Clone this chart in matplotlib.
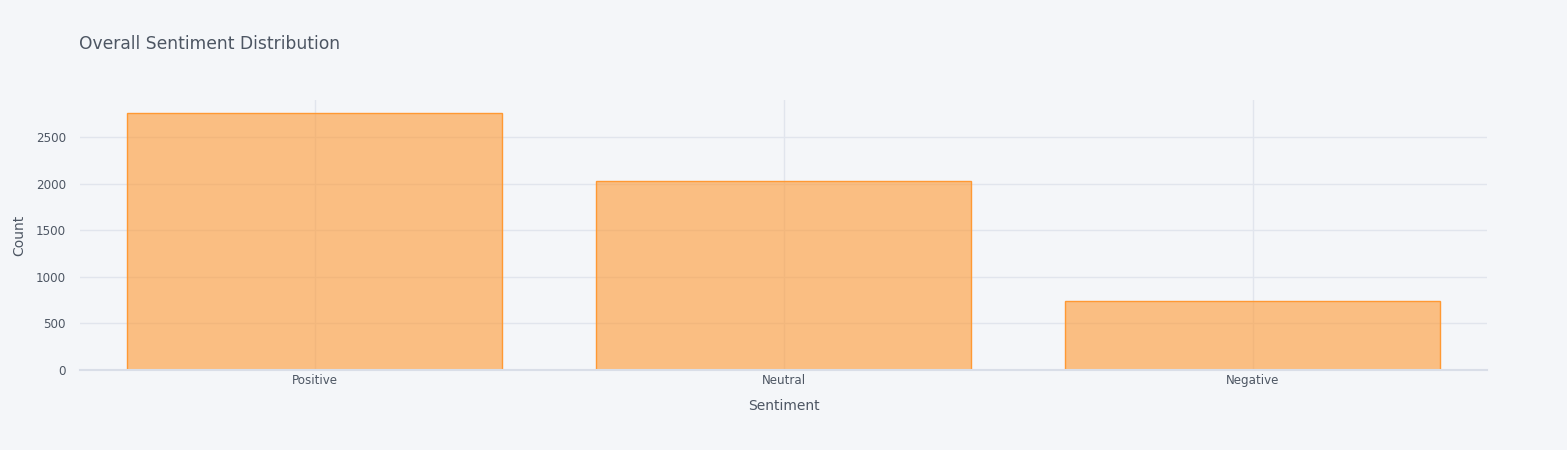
import matplotlib
matplotlib.use("Agg")
import matplotlib.pyplot as plt
import numpy as np

# data
sentiments = ["Positive", "Neutral", "Negative"]
counts = [2754, 2028, 745]

# style
bg = "#F4F6F9"
text_color = "#4D5663"
grid_color = "#E1E5ED"
bar_fill = (1.0, 0.6, 0.2, 0.6)
bar_edge = (1.0, 0.6, 0.2, 1.0)

plt.rcParams['font.family'] = ['DejaVu Sans']

W, H = 1567, 450
fig = plt.figure(figsize=(W / 100, H / 100), dpi=100, facecolor=bg)
ax = fig.add_axes([80 / W, 1 - 370 / H, (1487 - 80) / W, (370 - 100) / H])
ax.set_facecolor(bg)

x = np.arange(len(sentiments))
ax.bar(x, counts, width=0.8, color=bar_fill, edgecolor=bar_edge, linewidth=1, zorder=3)

ax.set_xlim(-0.5, len(sentiments) - 0.5)
ax.set_ylim(0, max(counts) * 1.052)
ax.set_yticks(np.arange(0, 3000, 500))
ax.set_xticks(x)
ax.set_xticklabels(sentiments)

ax.grid(True, color=grid_color, linewidth=1, zorder=0)
ax.set_axisbelow(True)
for s in ["top", "right", "left"]:
    ax.spines[s].set_visible(False)
ax.spines["bottom"].set_color("#D9DEE8")
ax.spines["bottom"].set_linewidth(1.5)
ax.spines["bottom"].set_zorder(4)

ax.tick_params(axis="both", length=0, colors=text_color, labelsize=8.6)
ax.tick_params(axis="x", pad=3)
ax.tick_params(axis="y", pad=10)

ax.set_xlabel("Sentiment", color=text_color, fontsize=10)
ax.set_ylabel("Count", color=text_color, fontsize=10)
ax.xaxis.set_label_coords(0.5, (370 - 406) / 270)
ax.yaxis.set_label_coords((19 - 80) / 1407, 0.5)
ax.xaxis.label.set_va("center")
ax.yaxis.label.set_va("center")

fig.text(79 / W, 1 - 44 / H, "Overall Sentiment Distribution", color=text_color,
         fontsize=12.3, ha="left", va="center")

fig.savefig("out.png", dpi=100, facecolor=bg)
